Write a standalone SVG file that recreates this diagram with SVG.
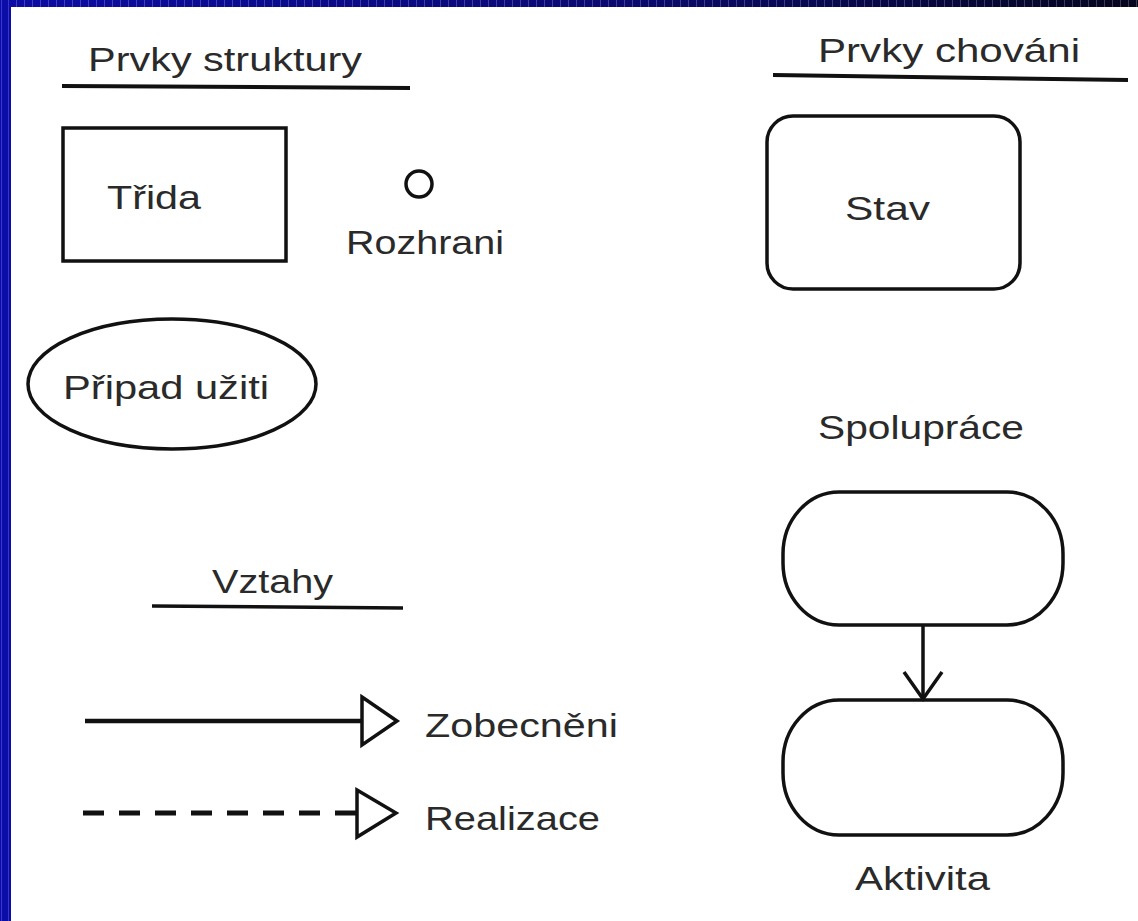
<svg xmlns="http://www.w3.org/2000/svg" width="1138" height="921" viewBox="0 0 1138 921">
<defs>
<style>
.t{font-family:"Liberation Sans",Arial,sans-serif;font-size:34px;fill:#2a2a2a}
.s{fill:none;stroke:#111;stroke-width:3.5}
.w{fill:#fff;stroke:#111;stroke-width:3.5}
</style>
<linearGradient id="topg" x1="0" y1="0" x2="1" y2="0">
<stop offset="0" stop-color="#0c0ca6"/>
<stop offset="0.55" stop-color="#0a0a70"/>
<stop offset="1" stop-color="#05051e"/>
</linearGradient>
<pattern id="stripes" x="0" y="0" width="8" height="8" patternUnits="userSpaceOnUse">
<rect x="0" y="0" width="1" height="8" fill="#ffffff" fill-opacity="0.22"/>
</pattern>
</defs>
<rect x="0" y="0" width="1138" height="921" fill="#fff"/>
<g id="border">
<rect x="0" y="0" width="1138" height="7" fill="url(#topg)"/>
<rect x="0" y="0" width="1138" height="7" fill="url(#stripes)"/>
<rect x="0" y="0" width="11" height="921" fill="#0c0ca6"/>
<rect x="1" y="0" width="1" height="921" fill="#4a4ae0" fill-opacity="0.7"/>
<rect x="8" y="0" width="1" height="921" fill="#4a4ae0" fill-opacity="0.7"/>
</g>
<g id="heading-structure">
<text class="t" x="88" y="71" textLength="274" lengthAdjust="spacingAndGlyphs">Prvky struktury</text>
<path d="M62 86 L410 88" stroke="#111" stroke-width="4" fill="none"/>
</g>
<g id="heading-behavior">
<text class="t" x="818" y="62" textLength="262" lengthAdjust="spacingAndGlyphs">Prvky chováni</text>
<path d="M773 75 L1128 80" stroke="#111" stroke-width="4" fill="none"/>
</g>
<g id="trida">
<rect class="w" x="63" y="128" width="223" height="133"/>
<text class="t" x="107" y="209" textLength="94" lengthAdjust="spacingAndGlyphs">Třida</text>
</g>
<g id="rozhrani">
<circle class="s" cx="419" cy="184" r="13"/>
<text class="t" x="346" y="254" textLength="158" lengthAdjust="spacingAndGlyphs">Rozhrani</text>
</g>
<g id="pripad-uziti">
<ellipse class="w" cx="172" cy="384" rx="144" ry="65"/>
<text class="t" x="63" y="399" textLength="206" lengthAdjust="spacingAndGlyphs">Připad užiti</text>
</g>
<g id="heading-relations">
<text class="t" x="212" y="593" textLength="121" lengthAdjust="spacingAndGlyphs">Vztahy</text>
<path d="M152 606 L403 608" stroke="#111" stroke-width="3.5" fill="none"/>
</g>
<g id="stav">
<rect class="w" x="767" y="116" width="253" height="173" rx="26" ry="26"/>
<text class="t" x="845" y="220" textLength="85" lengthAdjust="spacingAndGlyphs">Stav</text>
</g>
<g id="spoluprace">
<text class="t" x="818" y="439" textLength="206" lengthAdjust="spacingAndGlyphs">Spolupráce</text>
</g>
<g id="activity1">
<rect class="w" x="783" y="492" width="280" height="133" rx="56" ry="62"/>
</g>
<g id="activity2">
<rect class="w" x="783" y="700" width="280" height="135" rx="56" ry="62"/>
<text class="t" x="855" y="890" textLength="135" lengthAdjust="spacingAndGlyphs">Aktivita</text>
</g>
<g id="connectors">
<path d="M923 625 L923 699" stroke="#111" stroke-width="3.5" fill="none"/>
<path d="M904 672 L923 699 L942 672" stroke="#111" stroke-width="3.5" fill="none" stroke-linejoin="miter"/>
<g id="zobecneni">
<path d="M85 721 L362 721" stroke="#111" stroke-width="4.5" fill="none"/>
<path d="M362 697 L397 721 L362 745 Z" class="w" stroke-width="4"/>
<text class="t" x="425" y="737" textLength="193" lengthAdjust="spacingAndGlyphs">Zobecněni</text>
</g>
<g id="realizace">
<path d="M83 813 L356 813" stroke="#111" stroke-width="5" stroke-dasharray="21 15" fill="none"/>
<path d="M357 790 L396 813 L357 837 Z" class="w" stroke-width="4"/>
<text class="t" x="425" y="830" textLength="175" lengthAdjust="spacingAndGlyphs">Realizace</text>
</g>
</g>
</svg>
